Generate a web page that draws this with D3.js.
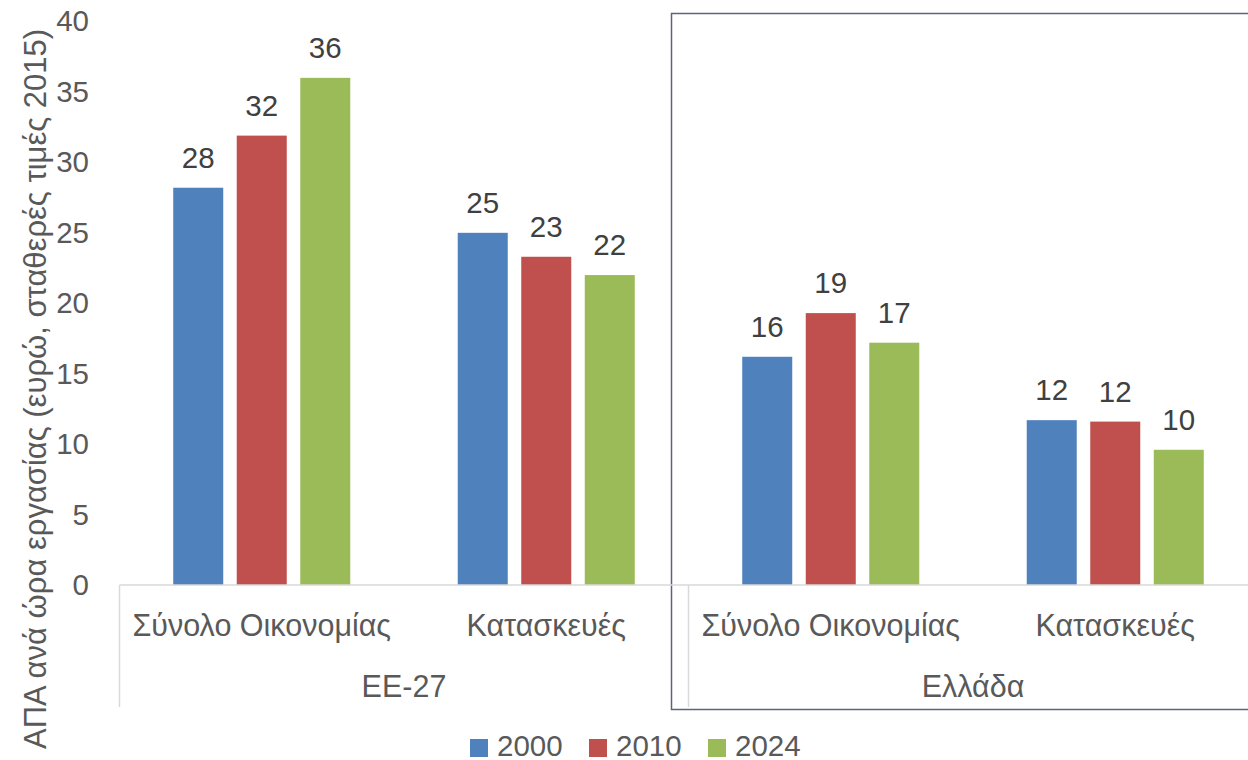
<!DOCTYPE html>
<html><head><meta charset="utf-8">
<script src="https://cdn.jsdelivr.net/npm/d3@7"></script>
<style>body{margin:0;background:#fff;} svg{display:block;font-family:"Liberation Sans",Arial,sans-serif;}</style>
</head><body><svg id="c" width="1248" height="760"></svg>
<script>
const groups = ["ΕΕ-27", "Ελλάδα"];
const sectors = ["Σύνολο Οικονομίας", "Κατασκευές"];
const years = ["2000", "2010", "2024"];
const colors = ["#4f81bd", "#c0504d", "#9bbb59"];
const v2000 = [28.2, 25.0, 16.2, 11.7];
const v2010 = [31.9, 23.3, 19.3, 11.6];
const v2024 = [36.0, 22.0, 17.2, 9.6];
const yTicks = [0, 5, 10, 15, 20, 25, 30, 35, 40];
const yTitle = "ΑΠΑ ανά ώρα εργασίας (ευρώ, σταθερές τιμές 2015)";

const FS = 29.5, FSC = 30.5, FST = 31;
const series = [v2000, v2010, v2024];
const cats = [];
groups.forEach(g => sectors.forEach(s => cats.push({g, s, key: g + "|" + s})));

const svg = d3.select("#c");
const x0 = d3.scaleBand().domain(cats.map(c => c.key)).range([119.5, 1257.5]).padding(0);
const x1 = d3.scaleBand().domain(years).range([0, x0.bandwidth()]).paddingInner(0.2126).paddingOuter(0.846);
const y = d3.scaleLinear().domain([0, 40]).range([585, 21.5]);

// Ελλάδα frame
const gStart = x0(cats[2].key);
svg.append("rect").attr("x", gStart - 17).attr("y", 13.5).attr("width", 1262 - (gStart - 17)).attr("height", 696)
  .attr("fill", "none").attr("stroke", "#5b6577").attr("stroke-width", 1.5);

// y axis labels
const yAxis = svg.append("g").attr("transform", "translate(89,0)")
  .call(d3.axisLeft(y).tickValues(yTicks).tickSize(0).tickPadding(0));
yAxis.select(".domain").remove();
yAxis.selectAll("text").attr("font-size", FS).attr("fill", "#595959").attr("font-family", "inherit");

// y title
svg.append("text").attr("transform", "translate(46,389) rotate(-90)")
  .attr("text-anchor", "middle").attr("font-size", FST).attr("fill", "#595959").text(yTitle);

// bars
years.forEach((yr, i) => {
  svg.append("g").selectAll("rect").data(cats).join("rect")
    .attr("x", c => x0(c.key) + x1(yr))
    .attr("y", (c, j) => y(series[i][j]))
    .attr("width", x1.bandwidth())
    .attr("height", (c, j) => y(0) - y(series[i][j]))
    .attr("fill", colors[i]);
  svg.append("g").selectAll("text").data(cats).join("text")
    .attr("x", c => x0(c.key) + x1(yr) + x1.bandwidth() / 2)
    .attr("y", (c, j) => y(series[i][j]) - 20)
    .attr("text-anchor", "middle").attr("font-size", FS).attr("fill", "#404040")
    .text((c, j) => d3.format(".0f")(series[i][j]));
});

// category axis
const axisCol = "#d9d9d9";
svg.append("line").attr("x1", 119.5).attr("x2", 1260).attr("y1", 585).attr("y2", 585).attr("stroke", axisCol).attr("stroke-width", 1.5);
[x0(cats[0].key), x0(cats[2].key)].forEach(xx => {
  svg.append("line").attr("x1", xx).attr("x2", xx).attr("y1", 585).attr("y2", 707).attr("stroke", axisCol).attr("stroke-width", 1.5);
});
svg.append("g").selectAll("text").data(cats).join("text")
  .attr("x", c => x0(c.key) + x0.bandwidth() / 2).attr("y", 636)
  .attr("text-anchor", "middle").attr("font-size", FSC).attr("fill", "#595959").text(c => c.s);
svg.append("g").selectAll("text").data(groups).join("text")
  .attr("x", g => { const ks = cats.filter(c => c.g === g); return (x0(ks[0].key) + x0(ks[ks.length - 1].key) + x0.bandwidth()) / 2; })
  .attr("y", 697).attr("text-anchor", "middle").attr("font-size", FSC).attr("fill", "#595959").text(g => g);

// legend
const leg = svg.append("g").selectAll("g").data(years).join("g")
  .attr("transform", (d, i) => `translate(${470 + i * 119},739)`);
leg.append("rect").attr("width", 18).attr("height", 18).attr("fill", (d, i) => colors[i]);
leg.append("text").attr("x", 27).attr("y", 17).attr("font-size", FS).attr("fill", "#595959").text(d => d);
</script></body></html>
